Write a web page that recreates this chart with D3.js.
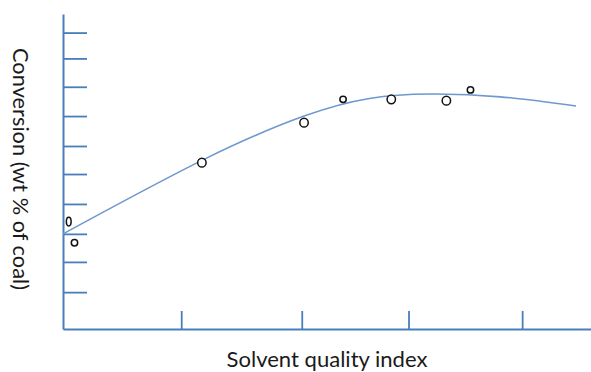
<!DOCTYPE html>
<html>
<head>
<meta charset="utf-8">
<script src="https://cdn.jsdelivr.net/npm/d3@7"></script>
<style>
  html, body { margin: 0; padding: 0; background: #fff; }
  svg { display: block; }
  text { font-family: Lato, "Open Sans", sans-serif; fill: #1a1a1a; }
</style>
</head>
<body>
<svg id="chart" width="591" height="372"></svg>
<script>
// Measured conversion vs. solvent quality index (arbitrary units, no axis labels)
const pointIndex = [0.05, 0.10, 1.21, 2.10, 2.44, 2.86, 3.34, 3.55];
const pointConversion = [34.1, 27.4, 52.8, 65.5, 72.9, 72.9, 72.5, 75.9];

// Smoothed trend line through the measurements
const fitIndex = [0, 1.22, 2.10, 2.67, 3.20, 3.81, 4.47];
const fitConversion = [30.2, 53.7, 67.6, 73.2, 74.6, 73.7, 70.8];

// Unlabelled tick marks on both axes
const xTickValues = [1.03, 2.08, 3.01, 4.0];
const yTickValues = [11.7, 21.3, 30.2, 39.7, 49.2, 58.1, 67.6, 76.9, 85.9, 94.1];

const xLabel = "Solvent quality index";
const yLabel = "Conversion (wt % of coal)";

const svg = d3.select("#chart");
const axisColor = "#4a7ebb";

const x = d3.scaleLinear().domain([0, 4.6]).range([63, 591]);
const y = d3.scaleLinear().domain([0, 100]).range([329, 14]);

// Y axis: ticks point inward (to the right)
const yAxis = svg.append("g")
  .attr("transform", `translate(${x(0)},0)`)
  .call(d3.axisRight(y).tickValues(yTickValues).tickSize(24).tickSizeOuter(0).tickFormat(""));

// X axis: ticks point upward
const xAxis = svg.append("g")
  .attr("transform", `translate(0,${y(0)})`)
  .call(d3.axisTop(x).tickValues(xTickValues).tickSize(18).tickSizeOuter(0).tickFormat(""));

[xAxis, yAxis].forEach(g => {
  g.selectAll("path.domain").attr("stroke", axisColor).attr("stroke-width", 2);
  g.selectAll(".tick line").attr("stroke", axisColor).attr("stroke-width", 1.8);
  g.selectAll(".tick text").remove();
});

// Trend curve
const line = d3.line()
  .x((d, i) => x(fitIndex[i]))
  .y((d, i) => y(fitConversion[i]))
  .curve(d3.curveNatural);

svg.append("path")
  .datum(fitIndex)
  .attr("d", line)
  .attr("fill", "none")
  .attr("stroke", "#6e98cf")
  .attr("stroke-width", 1.6);

// Data markers: open circles
svg.append("g")
  .selectAll("ellipse")
  .data(pointIndex)
  .join("ellipse")
  .attr("cx", (d, i) => x(d))
  .attr("cy", (d, i) => y(pointConversion[i]))
  .attr("rx", (d, i) => i === 0 ? 2.4 : (i === 1 || i === 4 || i === 7) ? 3.2 : 4.2)
  .attr("ry", (d, i) => i === 0 ? 4.4 : (i === 1 || i === 4 || i === 7) ? 3.2 : 4.4)
  .attr("fill", "#fff")
  .attr("stroke", "#111")
  .attr("stroke-width", 1.5);

// Fit a label's font size so that it spans a given length
function fitText(sel, length, start) {
  let size = start;
  sel.style("font-size", size + "px");
  const w = sel.node().getComputedTextLength();
  size = size * length / w;
  sel.style("font-size", size.toFixed(2) + "px");
}

const xl = svg.append("text")
  .attr("x", 327)
  .attr("y", 367)
  .attr("text-anchor", "middle")
  .text(xLabel);
fitText(xl, 201, 19);

const yl = svg.append("text")
  .attr("transform", "translate(13,169) rotate(90)")
  .attr("text-anchor", "middle")
  .text(yLabel);
fitText(yl, 242, 20);
</script>
</body>
</html>
